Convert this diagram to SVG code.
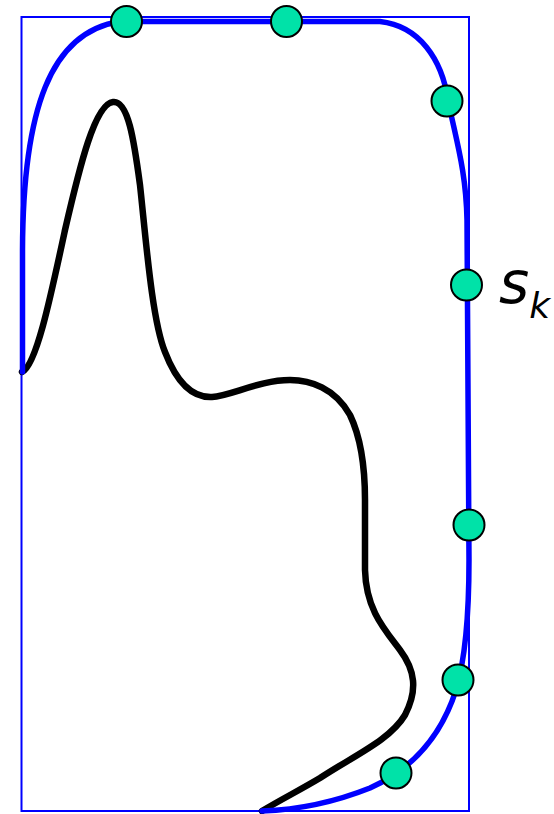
<svg xmlns="http://www.w3.org/2000/svg" width="554" height="814" viewBox="0 0 554 814">
<style>
.frame{fill:none;stroke:#0000ff;stroke-width:2}
.snake{fill:none;stroke:#0000ff;stroke-width:5.5;stroke-linejoin:round;stroke-linecap:round}
.shape{fill:none;stroke:#000;stroke-width:6.5;stroke-linejoin:round;stroke-linecap:round}
.pt{fill:#00e2a8;stroke:#000;stroke-width:2}
.lbl{font-family:"DejaVu Sans","Noto Sans",sans-serif;font-style:italic;fill:#000}
</style>
<rect width="554" height="814" fill="#fff"/>
<g id="frame"><rect class="frame" x="21.5" y="17" width="447.5" height="794"/></g>
<g id="shape">
<path class="shape" d="M22,372 C36,366 50,300 65,230 C80,165 95,104 113,102 C128,100 134,140 140,185 C146,240 152,320 165,352 C175,378 190,398 212,397 C230,396 260,380 290,380 C310,380 335,388 350,415 C362,440 365,470 365,500 L365,570 C366,610 385,630 400,650 C415,670 418,690 405,715 C390,740 355,755 320,778 C300,790 280,800 262,811"/>
</g>
<g id="contour">
<path class="snake" d="M22.5,372 L22.5,250 C23,110 50,32 120,21.5 L380,21.5 C420,26 442,60 448,100 C456,140 466,170 467,220 L469,560 C469,620 465,660 456,690 C440,740 410,770 370,788 C330,804 290,810 262,811"/>
</g>
<g id="points">
<circle class="pt" cx="126.5" cy="21.5" r="15.5"/>
<circle class="pt" cx="286.5" cy="21.5" r="15.5"/>
<circle class="pt" cx="447" cy="101" r="15.5"/>
<circle class="pt" cx="466.5" cy="285" r="15.5"/>
<circle class="pt" cx="469" cy="525" r="15.5"/>
<circle class="pt" cx="458" cy="680" r="15.5"/>
<circle class="pt" cx="396" cy="773" r="15.5"/>
</g>
<g id="label">
<text class="lbl" x="499" y="303" font-size="58">s<tspan font-size="36" dy="15">k</tspan></text>
</g>
</svg>
